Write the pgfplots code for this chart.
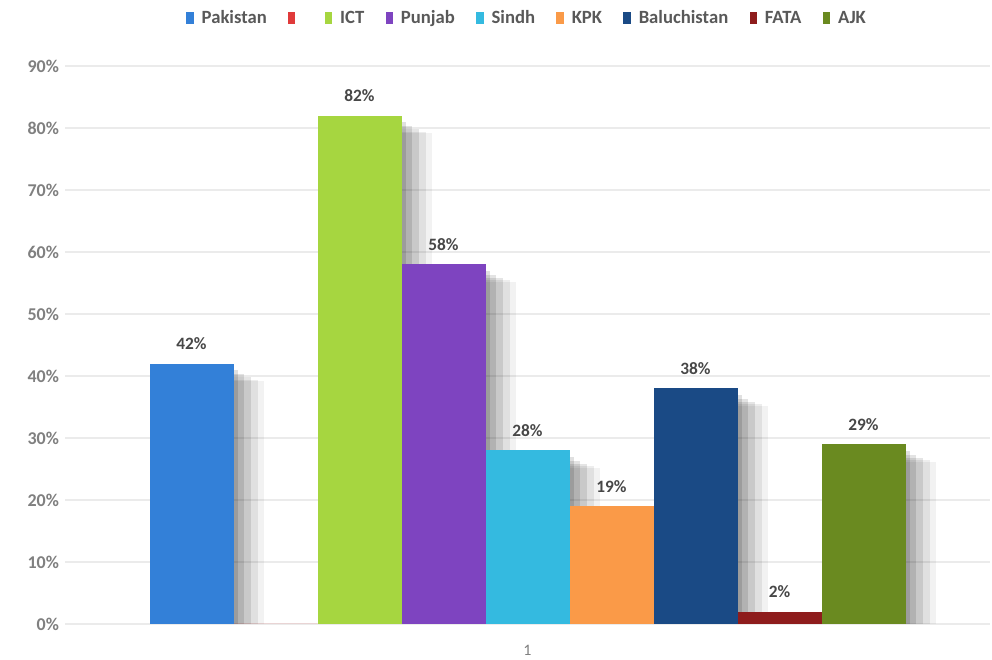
\documentclass[border=0pt]{standalone}
\usepackage{fontspec}
\setmainfont{Carlito}
\usepackage{pgfplots}
\pgfplotsset{compat=1.18}
\usetikzlibrary{shadows}
\definecolor{cPak}{HTML}{3380D8}
\definecolor{cRed}{HTML}{E03A3A}
\definecolor{cICT}{HTML}{A6D640}
\definecolor{cPun}{HTML}{7E44C0}
\definecolor{cSin}{HTML}{34BAE0}
\definecolor{cKPK}{HTML}{FA9A48}
\definecolor{cBal}{HTML}{1A4A85}
\definecolor{cFAT}{HTML}{8E1C1C}
\definecolor{cAJK}{HTML}{6A8A20}
\definecolor{txt}{HTML}{595959}
\begin{document}
\begin{tikzpicture}
\path[use as bounding box,fill=white] (-48.75pt,-27pt) rectangle (695.25pt,468pt);
\begin{axis}[
  scale only axis, width=693.75pt, height=418.5pt,
  ybar, bar width=63pt,
  xmin=0, xmax=2, ymin=0, ymax=90,
  xtick={1}, ytick={0,10,...,90},
  yticklabel={\pgfmathprintnumber{\tick}\%},
  /pgf/number format/assume math mode=true,
  tick label style={font=\fontsize{13.5}{15}\selectfont\bfseries, text=black!50},
  yticklabel style={xshift=-1pt},
  xticklabel style={yshift=-12pt, font=\fontsize{12}{14}\selectfont},
  axis line style={draw=none}, major tick length=0pt,
  ymajorgrids, grid style={gray!16, line width=0.8pt},
  legend columns=9,
  legend style={draw=none, fill=none, at={(0.5,1.0)}, anchor=south, yshift=26pt,
    font=\fontsize{14}{16}\selectfont\bfseries, text=txt,
    /tikz/every odd column/.append style={column sep=4pt},
    /tikz/every even column/.append style={column sep=14pt}},
  legend image code/.code={\fill[#1] (0pt,-4.5pt) rectangle (5.5pt,4.5pt);},
  every axis plot/.append style={draw=none, forget plot},
  bar shadow/.style={
    drop shadow={shadow xshift=3pt, shadow yshift=-5pt, fill=black, opacity=0.12},
    drop shadow={shadow xshift=8pt, shadow yshift=-8pt, fill=black, opacity=0.11},
    drop shadow={shadow xshift=13pt, shadow yshift=-10pt, fill=black, opacity=0.10},
    drop shadow={shadow xshift=18pt, shadow yshift=-12pt, fill=black, opacity=0.07},
    drop shadow={shadow xshift=23pt, shadow yshift=-13pt, fill=black, opacity=0.05}},
  labels/.style={nodes near coords={\pgfmathprintnumber{\pgfplotspointmeta}\%},
    every node near coord/.append style={font=\fontsize{13}{15}\selectfont\bfseries, text=black!72, yshift=7pt}},
]
\addplot[fill=cPak, bar shift=-252pt, bar shadow, labels] coordinates {(1,42)};
\addplot[fill=cRed, bar shift=-189pt] coordinates {(1,0)};
\addplot[fill=cICT, bar shift=-126pt, bar shadow, labels] coordinates {(1,82)};
\addplot[fill=cPun, bar shift=-63pt, bar shadow, labels] coordinates {(1,58)};
\addplot[fill=cSin, bar shift=0pt, bar shadow, labels] coordinates {(1,28)};
\addplot[fill=cKPK, bar shift=63pt, bar shadow, labels] coordinates {(1,19)};
\addplot[fill=cBal, bar shift=126pt, bar shadow, labels] coordinates {(1,38)};
\addplot[fill=cFAT, bar shift=189pt, bar shadow, labels] coordinates {(1,2)};
\addplot[fill=cAJK, bar shift=252pt, bar shadow, labels] coordinates {(1,29)};
\addlegendimage{fill=cPak}
\addlegendimage{fill=cRed}
\addlegendimage{fill=cICT}
\addlegendimage{fill=cPun}
\addlegendimage{fill=cSin}
\addlegendimage{fill=cKPK}
\addlegendimage{fill=cBal}
\addlegendimage{fill=cFAT}
\addlegendimage{fill=cAJK}
\legend{Pakistan,\mbox{},ICT,Punjab,Sindh,KPK,Baluchistan,FATA,AJK}
\end{axis}
\end{tikzpicture}
\end{document}
